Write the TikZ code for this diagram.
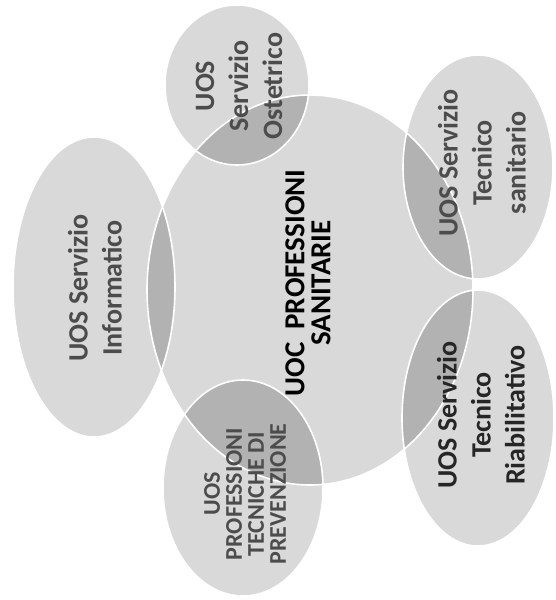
\documentclass[tikz,border=0pt]{standalone}
\usepackage{fontspec}
\setmainfont{Carlito}
\tikzset{
  blob/.style={fill=black!15},
  rim/.style={draw=white, line width=1.6pt},
  lbl/.style={rotate=90, align=center, text=black!70,
    font=\bfseries\fontsize{28}{34}\selectfont},
}
\begin{document}
\begin{tikzpicture}[x=1pt, y=-1pt]
  \useasboundingbox (0,0) rectangle (555,600);
  % centres of the shapes
  \coordinate (C) at (310,290);
  \coordinate (O) at (237,85);
  \coordinate (T) at (478,167);
  \coordinate (R) at (478,418);
  \coordinate (P) at (243,488);
  \coordinate (I) at (94,287);
  % fills
  \fill[blob] (C) ellipse (163pt and 195pt);
  \fill[blob] (O) ellipse (72pt and 80pt);
  \fill[blob] (T) ellipse (75pt and 112pt);
  \fill[blob] (R) ellipse (76pt and 128pt);
  \fill[blob] (P) ellipse (80pt and 108pt);
  \fill[blob] (I) ellipse (81pt and 150pt);
  % darker where the small ones lie on the big one
  \begin{scope}
    \clip (C) ellipse (163pt and 195pt);
    \fill[black!30] (O) ellipse (72pt and 80pt);
    \fill[black!30] (T) ellipse (75pt and 112pt);
    \fill[black!30] (R) ellipse (76pt and 128pt);
    \fill[black!30] (P) ellipse (80pt and 108pt);
    \fill[black!30] (I) ellipse (81pt and 150pt);
  \end{scope}
  % white rims
  \draw[rim] (C) ellipse (163pt and 195pt);
  \draw[rim] (O) ellipse (72pt and 80pt);
  \draw[rim] (T) ellipse (75pt and 112pt);
  \draw[rim] (R) ellipse (76pt and 128pt);
  \draw[rim] (P) ellipse (80pt and 108pt);
  \draw[rim] (I) ellipse (81pt and 150pt);
  % labels
  \node[lbl, text=black, font=\bfseries\fontsize{29}{26}\selectfont] (uoc) at (308,283)
    {UOC~~PROFESSIONI\\SANITARIE};
  \node[lbl] (ost) at (239,86) {UOS\\Servizio\\Ostetrico};
  \node[lbl] (san) at (482,163) {UOS Servizio\\Tecnico\\sanitario};
  \node[lbl, text=black!85] (ria) at (481,415) {UOS Servizio\\Tecnico\\Riabilitativo};
  \node[lbl, font=\bfseries\fontsize{24}{22}\selectfont] (pre) at (245,494)
    {UOS\\PROFESSIONI\\TECNICHE DI\\PREVENZIONE};
  \node[lbl] (inf) at (95,288) {UOS Servizio\\Informatico};
\end{tikzpicture}
\end{document}
